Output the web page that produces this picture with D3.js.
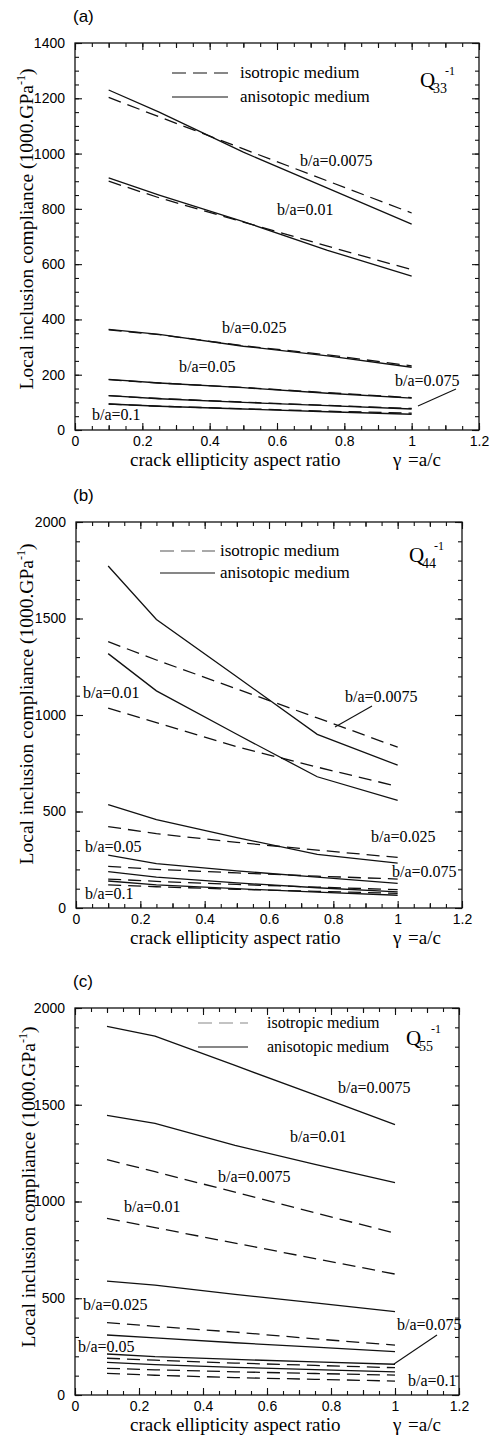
<!DOCTYPE html>
<html>
<head>
<meta charset="utf-8">
<script src="https://cdn.jsdelivr.net/npm/d3@7/dist/d3.min.js"></script>
<style>
    body { margin: 0; background: #fff; }
    svg text { fill: #000; }
    .tick text { font-family: "Liberation Sans", Arial, sans-serif; font-size: 14px; }
    .serif { font-family: "Liberation Serif", "Times New Roman", serif; }
</style>
</head>
<body>
<svg id="chart" width="490" height="1440"></svg>
<script>
// crack ellipticity aspect ratio (x) at which every curve was computed
const gamma = [0.1, 0.25, 0.5, 0.75, 1.0]
const ratios = ["0.0075", "0.01", "0.025", "0.05", "0.075", "0.1"]
const xTicks = [0, 0.2, 0.4, 0.6, 0.8, 1, 1.2]

// (a) Q33^-1, one row per b/a in the order of `ratios`
const q33Iso = [
    [1203, 1133, 1017, 901, 785],
    [900, 840, 752, 665, 580],
    [362, 345, 305, 272, 232],
    [182, 170, 154, 135, 117],
    [124, 114, 101, 89, 78],
    [94, 86, 77, 68, 61],
]
const q33Aniso = [
    [1230, 1150, 1005, 875, 745],
    [912, 850, 754, 650, 557],
    [364, 346, 303, 268, 227],
    [183, 170, 153, 133, 115],
    [124, 113, 100, 88, 76],
    [94, 86, 76, 66, 57],
]
// (b) Q44^-1
const q44Iso = [
    [1380, 1285, 1135, 985, 833],
    [1035, 960, 835, 730, 630],
    [422, 385, 340, 300, 262],
    [216, 200, 182, 165, 150],
    [150, 138, 122, 108, 95],
    [120, 110, 97, 86, 76],
]
const q44Aniso = [
    [1772, 1495, 1198, 900, 740],
    [1318, 1125, 900, 680, 558],
    [535, 458, 365, 278, 232],
    [274, 230, 192, 160, 128],
    [188, 160, 130, 105, 84],
    [140, 120, 100, 82, 66],
]
// (c) Q55^-1
const q55Iso = [
    [1216, 1154, 1048, 942, 836],
    [913, 865, 785, 705, 625],
    [374, 355, 325, 290, 258],
    [190, 180, 165, 153, 141],
    [138, 130, 120, 111, 103],
    [112, 102, 90, 81, 72],
]
const q55Aniso = [
    [1905, 1855, 1703, 1551, 1397],
    [1445, 1404, 1290, 1192, 1097],
    [589, 568, 520, 476, 431],
    [310, 295, 270, 247, 224],
    [212, 198, 184, 171, 159],
    [169, 157, 143, 131, 120],
]

const panels = [
    {
        tag: "(a)", sub: "33", iso: q33Iso, aniso: q33Aniso,
        left: 75, right: 479, top: 43, bottom: 430, yMax: 1400, yMajor: 200, yMinor: 50,
        legend: { x0: 172, x1: 228, y: 73, dy: 24, tx: 240, size: 17, dashColor: "#111" },
        q: { x: 420, y: 87 },
        yTitle: { x: 33, y: 229 },
        labels: [
            ["0.0075", 300, 166], ["0.01", 277, 215], ["0.025", 222, 333],
            ["0.05", 179, 372], ["0.075", 395, 386], ["0.1", 92, 420],
        ],
        leaders: [[418, 406, 456, 389]],
    },
    {
        tag: "(b)", sub: "44", iso: q44Iso, aniso: q44Aniso,
        left: 76, right: 462, top: 522, bottom: 908, yMax: 2000, yMajor: 500, yMinor: 100,
        legend: { x0: 160, x1: 215, y: 551, dy: 22, tx: 220, size: 17, dashColor: "#555" },
        q: { x: 409, y: 562 },
        yTitle: { x: 33, y: 704 },
        labels: [
            ["0.0075", 345, 702], ["0.01", 83, 698], ["0.025", 371, 842],
            ["0.05", 85, 852], ["0.075", 392, 877], ["0.1", 85, 899],
        ],
        leaders: [[372, 706, 335, 727]],
    },
    {
        tag: "(c)", sub: "55", iso: q55Iso, aniso: q55Aniso,
        left: 75, right: 459, top: 1008, bottom: 1395, yMax: 2000, yMajor: 500, yMinor: 100,
        legend: { x0: 198, x1: 248, y: 1023, dy: 24, tx: 267, size: 16, dashColor: "#888" },
        q: { x: 406, y: 1045 },
        yTitle: { x: 35, y: 1187 },
        labels: [
            ["0.0075", 338, 1093], ["0.01", 290, 1142], ["0.0075", 218, 1182],
            ["0.01", 124, 1212], ["0.025", 83, 1310], ["0.05", 78, 1352],
            ["0.075", 397, 1330], ["0.1", 408, 1386],
        ],
        leaders: [[394, 1364, 437, 1335]],
    },
]

const svg = d3.select("#chart")
const fmt = (d) => String(+d.toFixed(1))

function drawPanel(p) {
    const x = d3.scaleLinear().domain([0, 1.2]).range([p.left, p.right])
    const y = d3.scaleLinear().domain([0, p.yMax]).range([p.bottom, p.top])
    const g = svg.append("g")
    const noDomain = (s) => s.select(".domain").remove()

    const xMinor = d3.range(0, 1.2001, 0.05).map((d) => +d.toFixed(2))
    const xMid = d3.range(0.1, 1.2, 0.2).map((d) => +d.toFixed(1))
    const yMinor = d3.range(0, p.yMax + 1, p.yMinor)
    const yMajor = d3.range(0, p.yMax + 1, p.yMajor)

    // bottom / top axes, ticks pointing inward
    g.append("g").attr("transform", `translate(0,${p.bottom})`)
        .call(d3.axisBottom(x).tickValues(xMinor).tickSize(-4).tickFormat("")).call(noDomain)
    g.append("g").attr("transform", `translate(0,${p.bottom})`)
        .call(d3.axisBottom(x).tickValues(xMid).tickSize(-5).tickFormat("")).call(noDomain)
    g.append("g").attr("transform", `translate(0,${p.bottom})`)
        .call(d3.axisBottom(x).tickValues(xTicks).tickSize(-7).tickPadding(6).tickFormat(fmt)).call(noDomain)
    g.append("g").attr("transform", `translate(0,${p.top})`)
        .call(d3.axisTop(x).tickValues(xMinor).tickSize(-4).tickFormat("")).call(noDomain)
    g.append("g").attr("transform", `translate(0,${p.top})`)
        .call(d3.axisTop(x).tickValues(xMid).tickSize(-5).tickFormat("")).call(noDomain)
    g.append("g").attr("transform", `translate(0,${p.top})`)
        .call(d3.axisTop(x).tickValues(xTicks).tickSize(-7).tickFormat("")).call(noDomain)

    // left / right axes
    g.append("g").attr("transform", `translate(${p.left},0)`)
        .call(d3.axisLeft(y).tickValues(yMinor).tickSize(-4).tickFormat("")).call(noDomain)
    g.append("g").attr("transform", `translate(${p.left},0)`)
        .call(d3.axisLeft(y).tickValues(yMajor).tickSize(-7).tickPadding(10).tickFormat(d3.format("d"))).call(noDomain)
    g.append("g").attr("transform", `translate(${p.right},0)`)
        .call(d3.axisRight(y).tickValues(yMinor).tickSize(-4).tickFormat("")).call(noDomain)
    g.append("g").attr("transform", `translate(${p.right},0)`)
        .call(d3.axisRight(y).tickValues(yMajor).tickSize(-7).tickFormat("")).call(noDomain)

    g.selectAll(".tick line").attr("stroke", "#111").attr("stroke-width", 1.1)

    g.append("rect")
        .attr("x", p.left).attr("y", p.top)
        .attr("width", p.right - p.left).attr("height", p.bottom - p.top)
        .attr("fill", "none").attr("stroke", "#111").attr("stroke-width", 1.3)

    const line = d3.line().x((d, i) => x(gamma[i])).y((d) => y(d))

    g.selectAll(".iso").data(p.iso).join("path")
        .attr("d", line).attr("fill", "none")
        .attr("stroke", "#111").attr("stroke-width", 1.3).attr("stroke-dasharray", "13,7")
    g.selectAll(".aniso").data(p.aniso).join("path")
        .attr("d", line).attr("fill", "none")
        .attr("stroke", "#111").attr("stroke-width", 1.3)

    // panel tag
    g.append("text").attr("x", 73).attr("y", p.top - 21)
        .style("font-family", '"Liberation Sans", Arial, sans-serif').style("font-size", "17px")
        .text(p.tag)

    // legend
    const L = p.legend
    g.append("line").attr("x1", L.x0).attr("x2", L.x1).attr("y1", L.y).attr("y2", L.y)
        .attr("stroke", L.dashColor).attr("stroke-width", 1.2).attr("stroke-dasharray", "14,7")
    g.append("line").attr("x1", L.x0).attr("x2", L.x1).attr("y1", L.y + L.dy).attr("y2", L.y + L.dy)
        .attr("stroke", "#111").attr("stroke-width", 1.2)
    g.append("text").attr("class", "serif").attr("x", L.tx).attr("y", L.y + 5)
        .style("font-size", L.size + "px").text("isotropic medium")
    g.append("text").attr("class", "serif").attr("x", L.tx).attr("y", L.y + L.dy + 5)
        .style("font-size", L.size + "px").text("anisotopic medium")

    // Q_ij^-1
    g.append("text").attr("class", "serif").attr("x", p.q.x).attr("y", p.q.y)
        .style("font-size", "21px").text("Q")
    g.append("text").attr("class", "serif").attr("x", p.q.x + 13).attr("y", p.q.y + 6)
        .style("font-size", "14px").text(p.sub)
    g.append("text").attr("class", "serif").attr("x", p.q.x + 25).attr("y", p.q.y - 12)
        .style("font-size", "12px").text("-1")

    // curve labels
    p.labels.forEach(([r, lx, ly]) => {
        g.append("text").attr("class", "serif").attr("x", lx).attr("y", ly)
            .style("font-size", "16px").text("b/a=" + r)
    })
    p.leaders.forEach(([x1, y1, x2, y2]) => {
        g.append("line").attr("x1", x1).attr("y1", y1).attr("x2", x2).attr("y2", y2)
            .attr("stroke", "#111").attr("stroke-width", 1.1)
    })

    // axis titles
    const yt = g.append("text").attr("class", "serif")
        .attr("transform", `translate(${p.yTitle.x},${p.yTitle.y}) rotate(-90)`)
        .attr("text-anchor", "middle").style("font-size", "19.5px")
    yt.append("tspan").text("Local inclusion compliance (1000.GPa")
    yt.append("tspan").attr("dy", -8).style("font-size", "12px").text("-1")
    yt.append("tspan").attr("dy", 8).text(")")

    const xt = g.append("text").attr("class", "serif").attr("y", p.bottom + 36).style("font-size", "19px")
    xt.append("tspan").attr("x", 130).text("crack ellipticity aspect ratio")
    xt.append("tspan").attr("x", 393).text("γ")
    xt.append("tspan").attr("x", 408).text("=a/c")
}

panels.forEach(drawPanel)
</script>
</body>
</html>
